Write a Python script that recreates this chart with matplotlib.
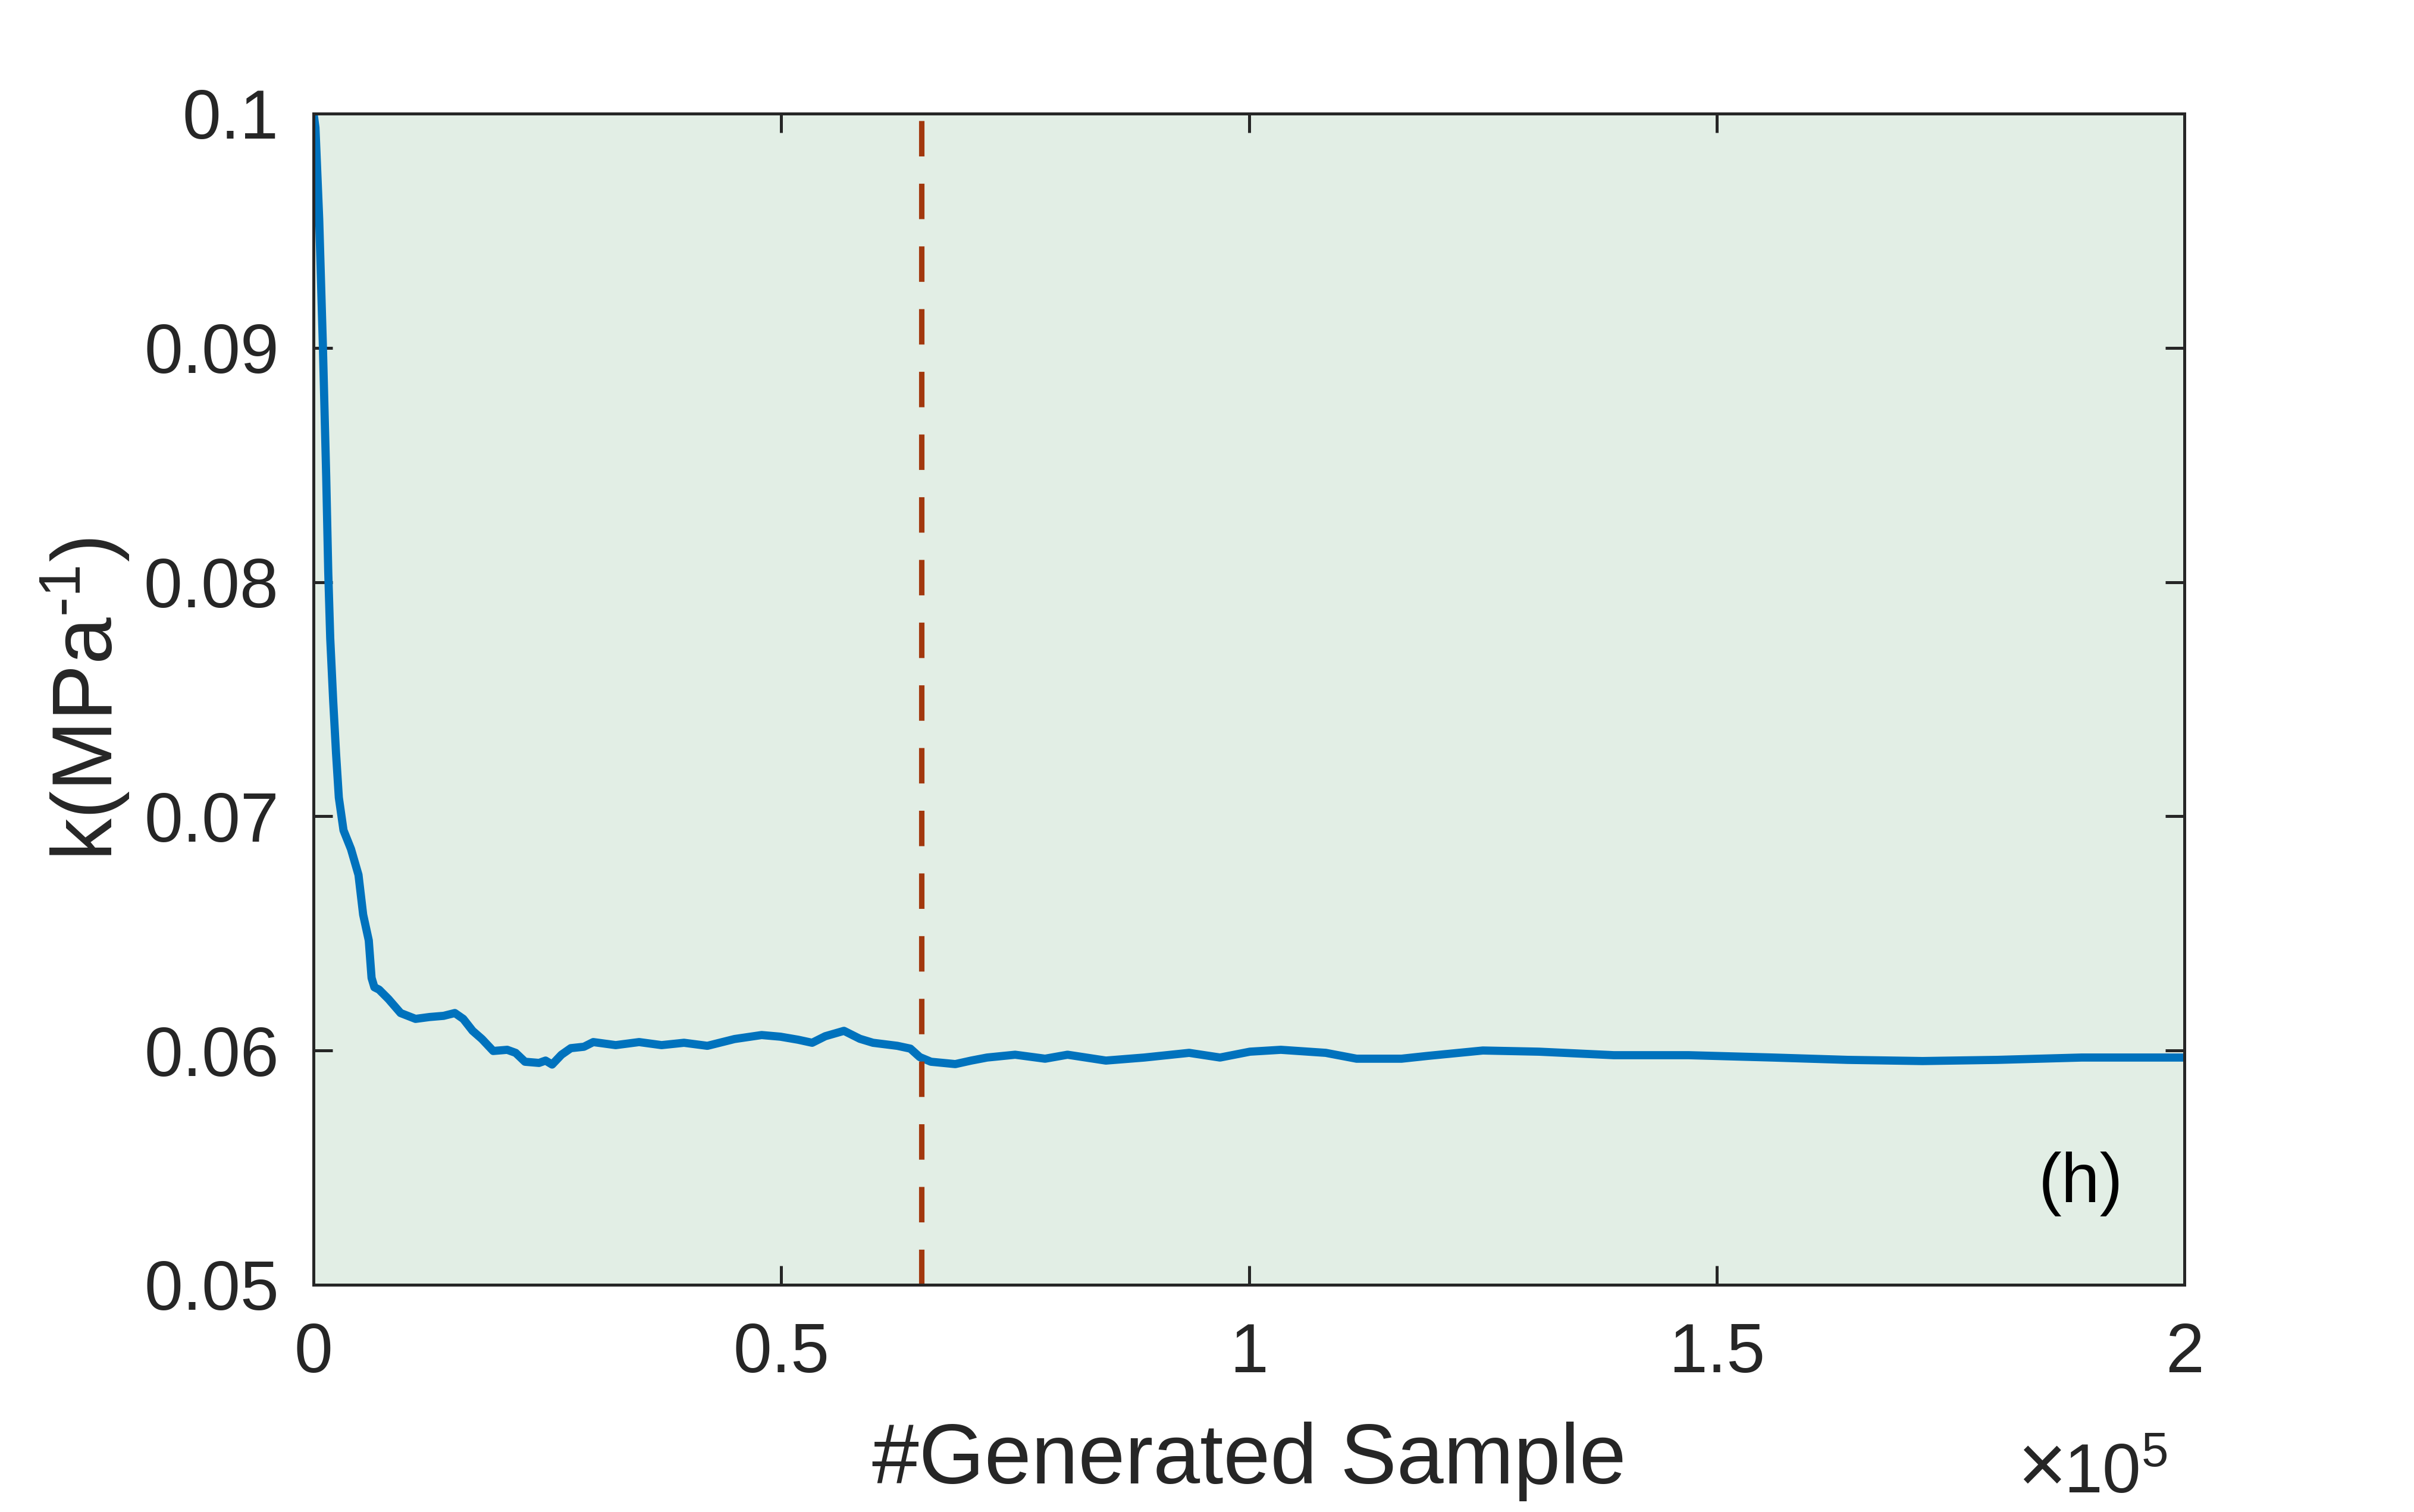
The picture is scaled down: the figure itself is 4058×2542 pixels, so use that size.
import numpy as np
import matplotlib.pyplot as plt

plt.rcParams['font.family'] = ['Liberation Sans', 'DejaVu Sans']
plt.rcParams['mathtext.fontset'] = 'custom'
plt.rcParams['mathtext.rm'] = 'Liberation Sans'
plt.rcParams['mathtext.it'] = 'Liberation Sans:italic'
plt.rcParams['mathtext.default'] = 'regular'

# chain trace of k
samples = [0, 200, 600, 1000, 1350, 1570, 1780, 2100, 2400, 2700,
           3200, 4000, 4800, 5300, 5900, 6200, 6500, 7000, 8000, 9300,
           10900, 12400, 13900, 15100, 16000, 17000, 18000, 19200, 20700, 21600,
           22600, 24100, 24800, 25500, 26500, 27500, 28900, 29900, 32300, 34800,
           37200, 39600, 42100, 45000, 47900, 49900, 51800, 53300, 54700, 56700,
           58400, 59800, 62400, 63800, 64800, 66000, 68600, 70300, 72000, 75000,
           78200, 80600, 84700, 88800, 93600, 96900, 100100, 103400, 108200, 111500,
           116300, 119100, 125000, 131000, 139000, 147000, 156000, 164000, 172000, 180000,
           189000, 200000]
k_vals = [0.1, 0.0994, 0.0955, 0.0900, 0.0845, 0.0804, 0.0776, 0.0749, 0.0727, 0.0708,
          0.0694, 0.0686, 0.0675, 0.0658, 0.0647, 0.0631, 0.0627, 0.0626, 0.0622, 0.0616,
          0.06135, 0.06143, 0.06148, 0.0616, 0.06135, 0.06084, 0.06049, 0.05998, 0.06003, 0.0599,
          0.05952, 0.05947, 0.05957, 0.0594, 0.05982, 0.0601, 0.06016, 0.06036, 0.06023, 0.06036,
          0.06023, 0.06033, 0.0602, 0.06049, 0.06066, 0.06059, 0.06046, 0.06033, 0.06061, 0.06084,
          0.0605, 0.06033, 0.0602, 0.06008, 0.05972, 0.05952, 0.05942, 0.05957, 0.0597, 0.05982,
          0.05965, 0.05982, 0.05957, 0.0597, 0.0599, 0.0597, 0.05995, 0.06003, 0.0599, 0.05965,
          0.05965, 0.05977, 0.0600, 0.05995, 0.0598, 0.0598, 0.0597, 0.0596, 0.05955, 0.0596,
          0.0597, 0.0597]
burn_in = 65000

xticks = [0, 50000, 100000, 150000, 200000]
xticklabels = ['0', '0.5', '1', '1.5', '2']
yticks = [0.05, 0.06, 0.07, 0.08, 0.09, 0.1]
yticklabels = ['0.05', '0.06', '0.07', '0.08', '0.09', '0.1']

fig = plt.figure(figsize=(4058/300., 2542/300.), dpi=300)
ax = fig.add_axes([0.1299, 0.1503, 0.9049-0.1299, 0.9249-0.1503])
ax.set_facecolor('#E2EEE5')

ax.plot(samples, k_vals, color='#0072BD', lw=3.3, solid_joinstyle='round')
ax.axvline(burn_in, color='#A2380E', lw=2.2, dashes=(6.5, 5))

ax.set_xlim(0, 200000)
ax.set_ylim(0.05, 0.1)
ax.set_xticks(xticks)
ax.set_xticklabels(xticklabels)
ax.set_yticks(yticks)
ax.set_yticklabels(yticklabels)

ax.tick_params(direction='in', top=True, right=True, length=7.7, width=1.2,
               colors='#262626', labelsize=28)
ax.tick_params(axis='x', pad=15)
ax.tick_params(axis='y', pad=14)
for s in ax.spines.values():
    s.set_color('#262626')
    s.set_linewidth(1.2)

ax.set_xlabel('#Generated Sample', fontsize=34, color='#262626', labelpad=14)
ax.set_ylabel(r'k(MPa$^{\text{-1}}$)', fontsize=34, color='#262626', labelpad=5)

ax.text(188900, 0.0543, '(h)', fontsize=28, color='black', ha='center', va='center')
# multiplier under the x axis
fig.text(0.856, 0.0126, '\u00d7', fontsize=34, color='#262626',
         ha='right', va='baseline')
fig.text(0.898, 0.0126, r'$10^{5}$', fontsize=28, color='#262626',
         ha='right', va='baseline')

plt.savefig('out.png', dpi=300, facecolor='white')
